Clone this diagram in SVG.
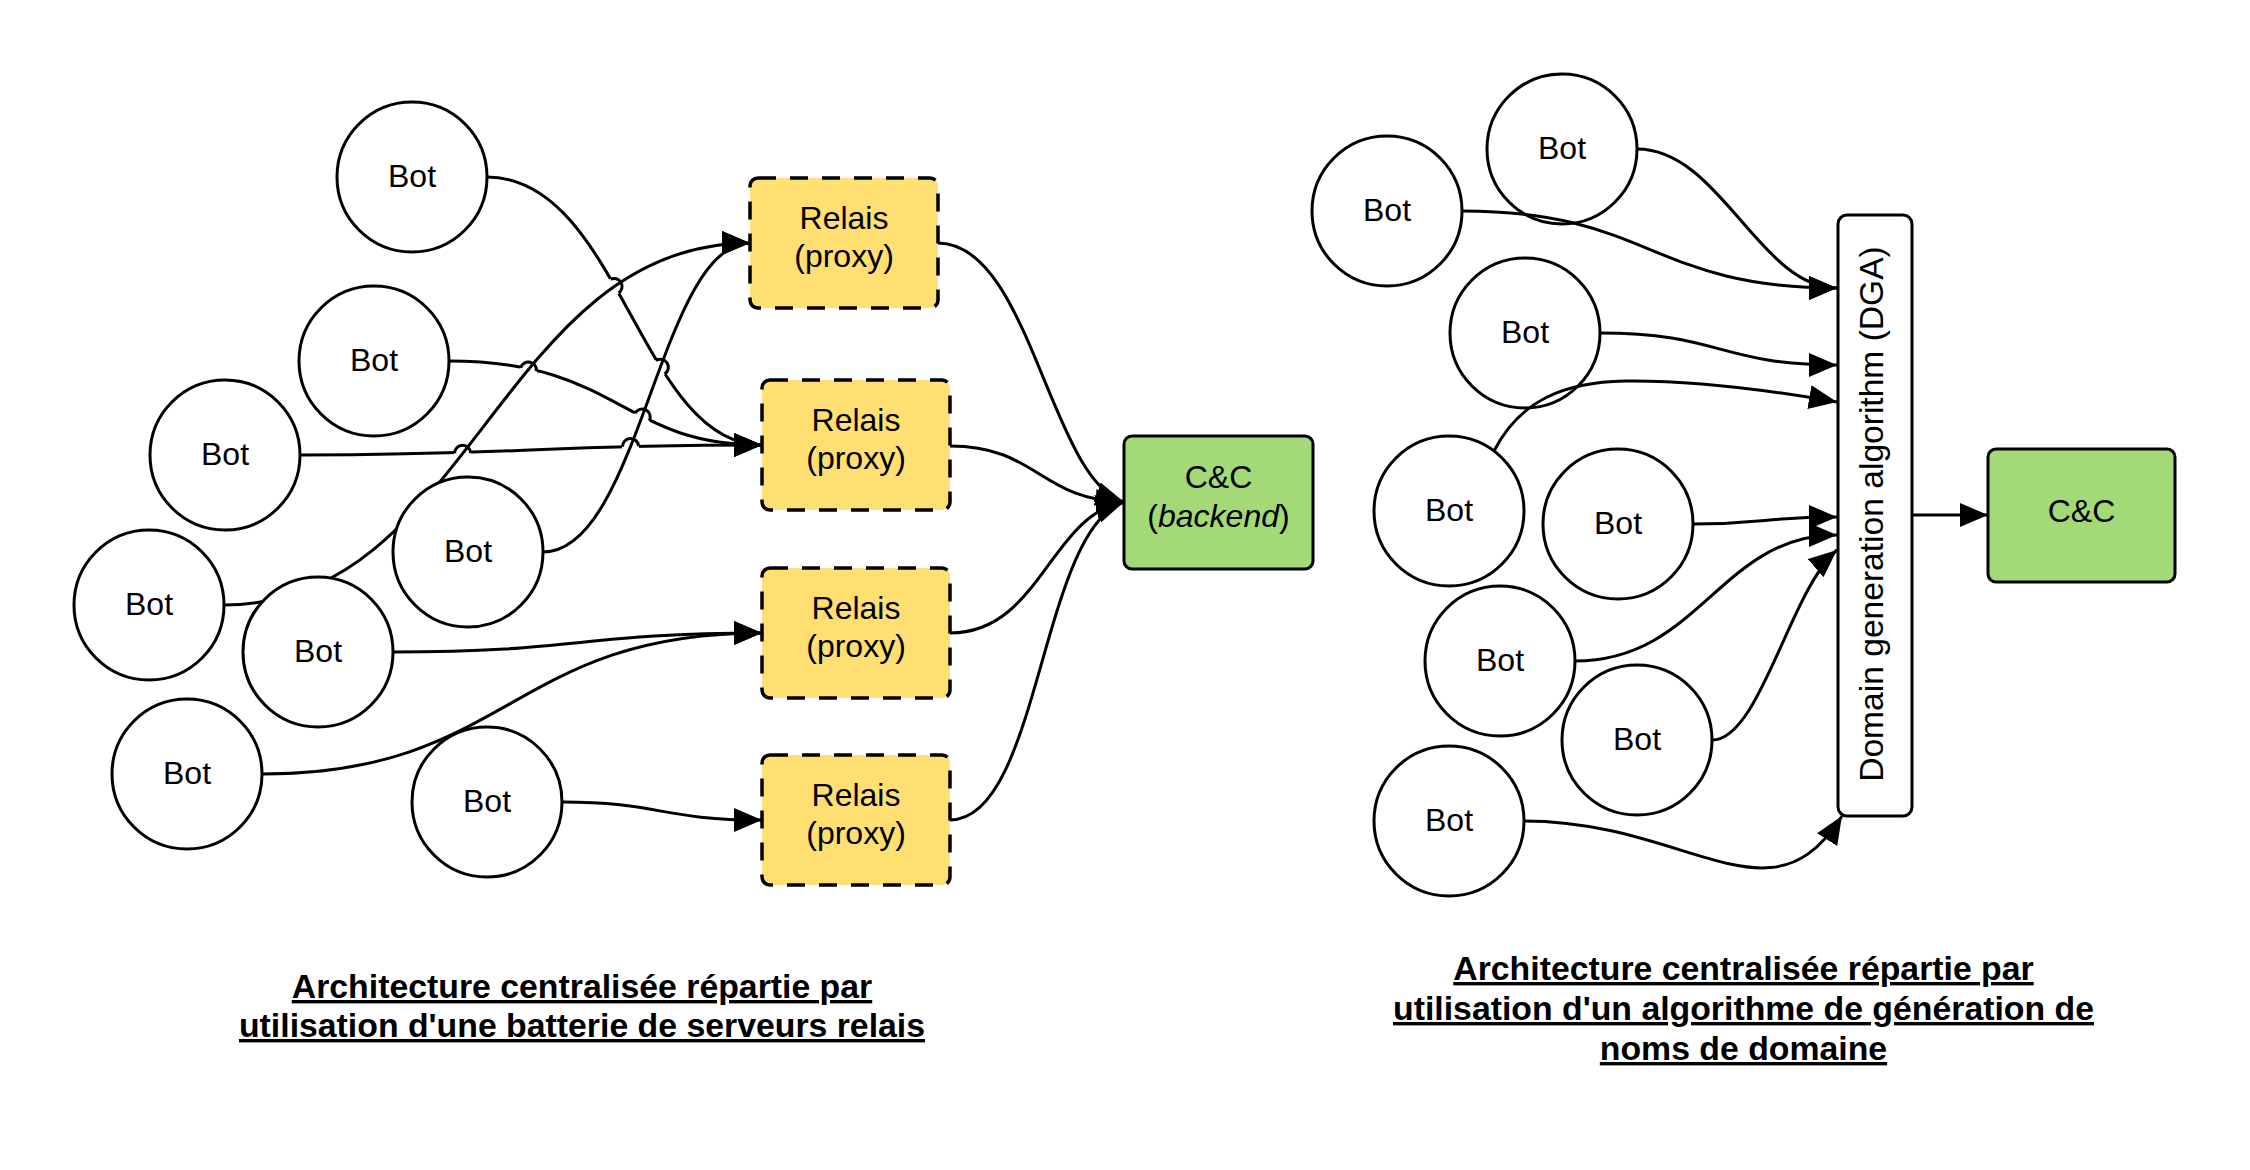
<svg xmlns="http://www.w3.org/2000/svg" width="2250" height="1170" viewBox="0 0 2250 1170">
<defs>
<marker id="arr" markerUnits="userSpaceOnUse" markerWidth="30" markerHeight="26" refX="28" refY="12" orient="auto">
<path d="M0,0 L28,12 L0,24 z" fill="#000"/>
</marker>
<style>
text{font-family:"Liberation Sans",Arial,sans-serif;fill:#000}
.bot circle{fill:#fff;stroke:#000;stroke-width:3}
.lbl{font-size:32px;text-anchor:middle}
.relay rect{fill:#FFDF71;stroke:#000;stroke-width:3.5;stroke-dasharray:18 14}
.cc rect{fill:#A3D977;stroke:#000;stroke-width:3}
.dga rect{fill:#fff;stroke:#000;stroke-width:3}
.con path{fill:none;stroke:#000;stroke-width:3}
.con .arrow{marker-end:url(#arr)}
.con .eraser{stroke:#fff;stroke-width:8;stroke-linecap:butt}
.title{font-size:33.8px;font-weight:bold;text-anchor:middle;text-decoration:underline}
</style>
</defs>
<rect width="2250" height="1170" fill="#fff"/>

<!-- LEFT DIAGRAM boxes -->
<g id="relay1" class="relay"><rect x="750" y="178" width="188" height="130" rx="8"/><text class="lbl" x="844" y="229">Relais</text><text class="lbl" x="844" y="267">(proxy)</text></g>
<g id="relay2" class="relay"><rect x="762" y="380" width="188" height="130" rx="8"/><text class="lbl" x="856" y="431">Relais</text><text class="lbl" x="856" y="469">(proxy)</text></g>
<g id="relay3" class="relay"><rect x="762" y="568" width="188" height="130" rx="8"/><text class="lbl" x="856" y="619">Relais</text><text class="lbl" x="856" y="657">(proxy)</text></g>
<g id="relay4" class="relay"><rect x="762" y="755" width="188" height="130" rx="8"/><text class="lbl" x="856" y="806">Relais</text><text class="lbl" x="856" y="844">(proxy)</text></g>
<g id="cc-backend" class="cc"><rect x="1124" y="436" width="189" height="133" rx="8"/><text class="lbl" x="1218.5" y="488">C&amp;C</text><text class="lbl" x="1218.5" y="527">(<tspan font-style="italic">backend</tspan>)</text></g>

<!-- LEFT connectors -->
<g id="connectors-left" class="con">
<path class="arrow" d="M487,177 C620,177 640,445 762,445"/>
<path class="arrow" d="M449,361 C620,361 620,445 762,445"/>
<path class="arrow" d="M300,455 C530,455 530,445 762,445"/>
<path class="eraser" d="M610.4,278.7 L618.8,293.5"/>
<path class="eraser" d="M655.8,360.1 L664.8,374.5"/>
<path class="eraser" d="M520.2,367.7 L536.8,371.3"/>
<path class="eraser" d="M634.7,413.1 L649.7,420.9"/>
<path class="eraser" d="M454.1,453.4 L471.1,453"/>
<path class="eraser" d="M622,446.8 L639,446.2"/>
<path class="arrow" d="M224,605 C470,605 500,243 750,243"/>
<path class="arrow" d="M543,552 C640,552 660,243 750,243"/>
<path d="M610.6,279.2 A8,8 0 0 1 618.6,293"/>
<path d="M656,360.5 A8,8 0 0 1 664.6,374.1"/>
<path d="M520.7,367.8 A8,8 0 0 1 536.3,371.2"/>
<path d="M635.1,413.3 A8,8 0 0 1 649.3,420.7"/>
<path d="M454.6,453.4 A8,8 0 0 1 470.6,453"/>
<path d="M622.5,446.7 A8,8 0 0 1 638.5,446.3"/>
<path class="arrow" d="M393,652 C580,652 580,633 762,633"/>
<path class="arrow" d="M262,774 C510,774 510,633 762,633"/>
<path class="arrow" d="M562,802 C660,802 660,820 762,820"/>
<path class="arrow" d="M938,243 C1030,243 1050,480 1124,502"/>
<path class="arrow" d="M950,446 C1037,446 1040,500 1124,502"/>
<path class="arrow" d="M950,633 C1040,633 1050,515 1124,502"/>
<path class="arrow" d="M950,820 C1040,820 1040,530 1124,502"/>
</g>

<!-- LEFT bots -->
<g id="bot-l1" class="bot"><circle cx="412" cy="177" r="75"/><text class="lbl" x="412" y="187">Bot</text></g>
<g id="bot-l2" class="bot"><circle cx="374" cy="361" r="75"/><text class="lbl" x="374" y="371">Bot</text></g>
<g id="bot-l3" class="bot"><circle cx="225" cy="455" r="75"/><text class="lbl" x="225" y="465">Bot</text></g>
<g id="bot-l4" class="bot"><circle cx="468" cy="552" r="75"/><text class="lbl" x="468" y="562">Bot</text></g>
<g id="bot-l5" class="bot"><circle cx="149" cy="605" r="75"/><text class="lbl" x="149" y="615">Bot</text></g>
<g id="bot-l6" class="bot"><circle cx="318" cy="652" r="75"/><text class="lbl" x="318" y="662">Bot</text></g>
<g id="bot-l7" class="bot"><circle cx="187" cy="774" r="75"/><text class="lbl" x="187" y="784">Bot</text></g>
<g id="bot-l8" class="bot"><circle cx="487" cy="802" r="75"/><text class="lbl" x="487" y="812">Bot</text></g>

<!-- RIGHT bots -->
<g id="bot-r1" class="bot"><circle cx="1562" cy="149" r="75"/><text class="lbl" x="1562" y="159">Bot</text></g>
<g id="bot-r2" class="bot"><circle cx="1387" cy="211" r="75"/><text class="lbl" x="1387" y="221">Bot</text></g>
<g id="bot-r3" class="bot"><circle cx="1525" cy="333" r="75"/><text class="lbl" x="1525" y="343">Bot</text></g>
<g id="bot-r4" class="bot"><circle cx="1449" cy="511" r="75"/><text class="lbl" x="1449" y="521">Bot</text></g>
<g id="bot-r5" class="bot"><circle cx="1618" cy="524" r="75"/><text class="lbl" x="1618" y="534">Bot</text></g>
<g id="bot-r6" class="bot"><circle cx="1500" cy="661" r="75"/><text class="lbl" x="1500" y="671">Bot</text></g>
<g id="bot-r7" class="bot"><circle cx="1637" cy="740" r="75"/><text class="lbl" x="1637" y="750">Bot</text></g>
<g id="bot-r8" class="bot"><circle cx="1449" cy="821" r="75"/><text class="lbl" x="1449" y="831">Bot</text></g>

<g id="dga" class="dga"><rect x="1838" y="215" width="74" height="601" rx="9"/><text font-size="33.6" text-anchor="middle" transform="translate(1883,514) rotate(-90)">Domain generation algorithm (DGA)</text></g>
<g id="cc-right" class="cc"><rect x="1988" y="449" width="187" height="133" rx="8"/><text class="lbl" x="2081.5" y="522">C&amp;C</text></g>

<!-- RIGHT connectors -->
<g id="connectors-right" class="con">
<path class="arrow" d="M1637,149 C1720,149 1760,288 1837,288"/>
<path class="arrow" d="M1462,211 C1650,211 1650,288 1837,288"/>
<path class="arrow" d="M1600,333 C1720,333 1720,365 1837,365"/>
<path class="arrow" d="M1494,451 C1520,400 1565,382 1625,381 C1700,380 1780,392 1837,402"/>
<path class="arrow" d="M1693,524 C1765,524 1765,517 1837,517"/>
<path class="arrow" d="M1575,661 C1700,661 1720,535 1837,535"/>
<path class="arrow" d="M1712,740 C1760,740 1790,590 1837,550"/>
<path class="arrow" d="M1524,821 C1690,821 1770,930 1842,816"/>
<path class="arrow" d="M1912,515 L1988,515"/>
</g>

<!-- titles -->
<g id="title-left"><text class="title" x="582" y="998">Architecture centralisée répartie par</text><text class="title" x="582" y="1037">utilisation d'une batterie de serveurs relais</text></g>
<g id="title-right"><text class="title" x="1743.5" y="980">Architecture centralisée répartie par</text><text class="title" x="1743.5" y="1020">utilisation d'un algorithme de génération de</text><text class="title" x="1743.5" y="1060">noms de domaine</text></g>
</svg>
